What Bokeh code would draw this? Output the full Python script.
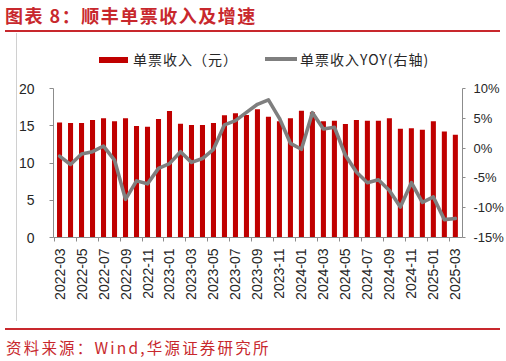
from bokeh.plotting import figure
from bokeh.layouts import column
from bokeh.models import Range1d, LinearAxis, FixedTicker, Div
from bokeh.embed import file_html
from bokeh.resources import INLINE

months = ["2022-03", "2022-04", "2022-05", "2022-06", "2022-07", "2022-08", "2022-09",
          "2022-10", "2022-11", "2022-12", "2023-01", "2023-02", "2023-03", "2023-04",
          "2023-05", "2023-06", "2023-07", "2023-08", "2023-09", "2023-10", "2023-11",
          "2023-12", "2024-01", "2024-02", "2024-03", "2024-04", "2024-05", "2024-06",
          "2024-07", "2024-08", "2024-09", "2024-10", "2024-11", "2024-12", "2025-01",
          "2025-02", "2025-03"]
income = [15.45, 15.36, 15.36, 15.77, 15.99, 15.59, 15.99, 14.95, 14.86, 15.90,
          16.98, 15.27, 15.09, 15.09, 15.36, 16.40, 16.67, 16.44, 17.20, 16.20,
          15.59, 15.99, 17.03, 16.80, 15.59, 15.68, 15.23, 15.77, 15.68, 15.68,
          15.99, 14.59, 14.68, 14.46, 15.59, 14.23, 13.78]
yoy = [-1.35, -2.75, -1.0, -0.6, 0.35, -2.0, -8.6, -5.5, -6.0, -3.4,
       -2.6, -0.6, -2.4, -1.75, -0.2, 3.9, 4.6, 6.0, 7.35, 8.1,
       5.0, 0.8, -0.2, 5.95, 3.2, 3.5, -1.2, -4.0, -5.8, -5.3,
       -7.1, -9.9, -5.8, -9.1, -8.2, -12.0, -11.8]
left_ticks = [0, 5, 10, 15, 20]
right_ticks = [-15, -10, -5, 0, 5, 10]
right_labels = ["-15%", "-10%", "-5%", "0%", "5%", "10%"]

title_text = "图表 8：顺丰单票收入及增速"
source_text = "资料来源：Wind,华源证券研究所"
legend_bar = "单票收入（元）"
legend_line = "单票收入YOY(右轴)"

RED = "#C00000"
TRED = "#C8282D"
GRAY = "#7F7F7F"
AX = "#8C8C8C"
TXT = "#262626"
FRAME_GRAY = "#D0D0D0"
CJK = "'Noto Sans CJK SC'"

idx = list(range(len(months)))

TOP_H = 72
BOT_H = 40
FIG_H = 361 - TOP_H - BOT_H

# ---------- header (title, rule, legend) ----------
top_html = f"""
<div style="position:relative;width:506px;height:{TOP_H}px;font-family:{CJK};margin:0;padding:0;">
  <div style="position:absolute;left:5px;top:3px;font-size:18px;font-weight:bold;letter-spacing:1.5px;color:{TRED};line-height:24px;white-space:nowrap;">{title_text}</div>
  <div style="position:absolute;left:5px;top:29.5px;width:495px;height:2px;background:{TRED};"></div>
  <div style="position:absolute;left:15.5px;top:33px;width:1px;height:{TOP_H - 33}px;background:{FRAME_GRAY};"></div>
  <div style="position:absolute;left:99px;top:56.5px;width:29px;height:6px;background:{RED};"></div>
  <div style="position:absolute;left:133px;top:50px;font-size:14px;letter-spacing:1px;line-height:18px;color:{TXT};white-space:nowrap;">{legend_bar}</div>
  <div style="position:absolute;left:265px;top:57.3px;width:32px;height:3.5px;background:{GRAY};"></div>
  <div style="position:absolute;left:300px;top:50px;font-size:14px;letter-spacing:1px;line-height:18px;color:{TXT};white-space:nowrap;">{legend_line}</div>
</div>
"""
top = Div(text=top_html, width=506, height=TOP_H, margin=0, styles={"padding": "0", "margin": "0"})

# ---------- footer (rule, source) ----------
bot_html = f"""
<div style="position:relative;width:506px;height:{BOT_H}px;font-family:{CJK};margin:0;padding:0;">
  <div style="position:absolute;left:5px;top:6.5px;width:495px;height:2px;background:{TRED};"></div>
  <div style="position:absolute;left:6px;top:15px;font-size:15.5px;letter-spacing:2.2px;line-height:22px;color:{TRED};white-space:nowrap;">{source_text}</div>
</div>
"""
bot = Div(text=bot_html, width=506, height=BOT_H, margin=0, styles={"padding": "0", "margin": "0"})

# ---------- chart ----------
p = figure(width=506, height=FIG_H, output_backend="svg", toolbar_location=None,
           x_range=Range1d(-0.55, 36.65), y_range=Range1d(0, 20),
           min_border_left=53, min_border_right=44, min_border_top=88 - TOP_H,
           min_border_bottom=FIG_H - (237 - TOP_H), margin=0,
           styles={"background-color": "white",
                   "background-image": f"linear-gradient({FRAME_GRAY}, {FRAME_GRAY})",
                   "background-size": "1px 100%", "background-position": "15.5px 0",
                   "background-repeat": "no-repeat"})
p.outline_line_color = None
p.xgrid.visible = False
p.ygrid.visible = False
p.background_fill_color = "white"
p.border_fill_color = None

p.extra_y_ranges = {"yoy": Range1d(-15, 10)}

p.vbar(x=idx, top=income, width=0.46, color=RED, line_color=None)
p.line(x=idx, y=yoy, y_range_name="yoy", line_color=GRAY, line_width=3.6,
       line_join="round", line_cap="round")

# x axis
xa = p.xaxis[0]
even = [i for i in idx if i % 2 == 0]
xa.ticker = FixedTicker(ticks=even, minor_ticks=[i - 0.5 for i in even])
xa.major_label_overrides = {i: months[i] for i in even}
xa.major_label_orientation = 3.14159265 / 2
xa.major_tick_out = 0
xa.major_tick_in = 0
xa.minor_tick_out = 4
xa.minor_tick_in = 0
xa.minor_tick_line_color = AX
xa.axis_line_color = AX
xa.major_label_standoff = 7
xa.major_label_text_font = "Liberation Sans"
xa.major_label_text_font_size = "14px"
xa.major_label_text_color = TXT

# left axis
ya = p.yaxis[0]
ya.ticker = FixedTicker(ticks=left_ticks)
ya.major_tick_out = 4
ya.major_tick_in = 0
ya.minor_tick_out = 0
ya.minor_tick_in = 0
ya.axis_line_color = AX
ya.major_tick_line_color = AX
ya.major_label_standoff = 15
ya.major_label_text_font = "Liberation Sans"
ya.major_label_text_font_size = "14px"
ya.major_label_text_color = TXT

# right axis
ra = LinearAxis(y_range_name="yoy", ticker=FixedTicker(ticks=right_ticks),
                major_label_overrides={t: l for t, l in zip(right_ticks, right_labels)})
ra.major_tick_out = 3
ra.major_tick_in = 0
ra.minor_tick_out = 0
ra.minor_tick_in = 0
ra.axis_line_color = AX
ra.major_tick_line_color = AX
ra.major_label_standoff = 8
ra.major_label_text_font = "Liberation Sans"
ra.major_label_text_font_size = "13px"
ra.major_label_text_color = TXT
p.add_layout(ra, "right")

layout = column(top, p, bot, spacing=0, margin=0)

open("out.html", "w").write(file_html(layout, INLINE))
